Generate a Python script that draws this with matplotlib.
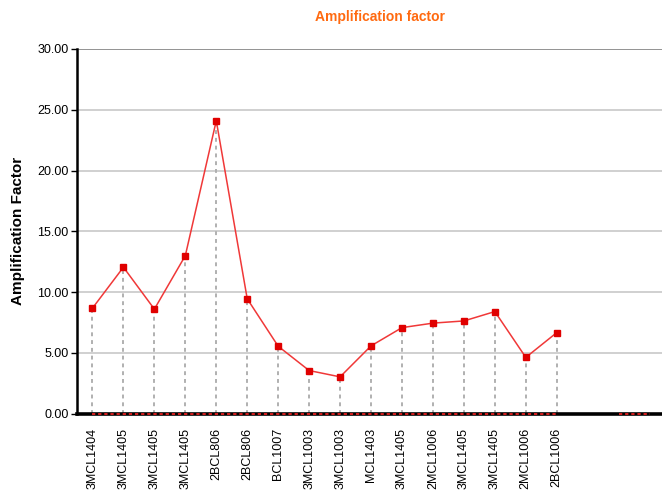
import numpy as np
import matplotlib
matplotlib.use("Agg")
import matplotlib.pyplot as plt

plt.rcParams['font.family'] = ['Liberation Sans', 'DejaVu Sans']

samples = ['3MCL1404', '3MCL1405', '3MCL1405', '3MCL1405', '2BCL806', '2BCL806',
           'BCL1007', '3MCL1003', '3MCL1003', 'MCL1403', '3MCL1405', '2MCL1006',
           '3MCL1405', '3MCL1405', '2MCL1006', '2BCL1006']
factor = [8.68, 12.05, 8.6, 13.0, 24.1, 9.45,
          5.55, 3.55, 3.03, 5.58, 7.08, 7.45,
          7.63, 8.4, 4.63, 6.67]
# second (empty) series that sits on the zero line
baseline = [0] * 16 + [np.nan] + [0, 0]
y_ticks = [0, 5, 10, 15, 20, 25, 30]

fig = plt.figure(figsize=(6.62, 4.90), dpi=100)
ax = fig.add_axes([0.1163, 0.1557, 0.8837, 0.7444])

x = np.arange(len(factor))
ax.set_xlim(-0.5, 18.4)
ax.set_ylim(0, 30)

for t in y_ticks[1:]:
    ax.axhline(t, color='#808080' if t == 30 else '#c8c8c8', lw=1.2, zorder=0)

ax.vlines(x, 0, factor, colors='#b0b0b0', linestyles=(0, (2, 2)), lw=1.4, zorder=1)
ax.axhline(0, color='black', lw=2.6, zorder=2, clip_on=False)
ax.plot(np.arange(len(baseline)), baseline, color='#e82020', lw=1.3,
        linestyle=(0, (1.8, 1.6)), zorder=3, clip_on=False)
ax.plot(x, factor, color='#f03838', lw=1.1, marker='s', markersize=5,
        markerfacecolor='#e00000', markeredgecolor='#e00000', zorder=4)

for side in ['top', 'right', 'bottom']:
    ax.spines[side].set_visible(False)
ax.spines['left'].set_linewidth(1.8)

ax.set_yticks(y_ticks)
ax.set_yticklabels(['%.2f' % t for t in y_ticks], fontsize=9)
ax.tick_params(axis='y', length=4, width=1, direction='out', pad=2)
ax.set_xticks(x)
ax.set_xticklabels(samples, rotation=90, fontsize=9, va='top')
ax.tick_params(axis='x', length=0, pad=10)

ax.set_ylabel('Amplification Factor', fontsize=11, fontweight='bold', labelpad=9)
fig.text(0.574, 0.965, 'Amplification factor', color='#ff6a10', fontsize=10,
         fontweight='bold', ha='center', va='center')

fig.savefig('out.png', dpi=100)
